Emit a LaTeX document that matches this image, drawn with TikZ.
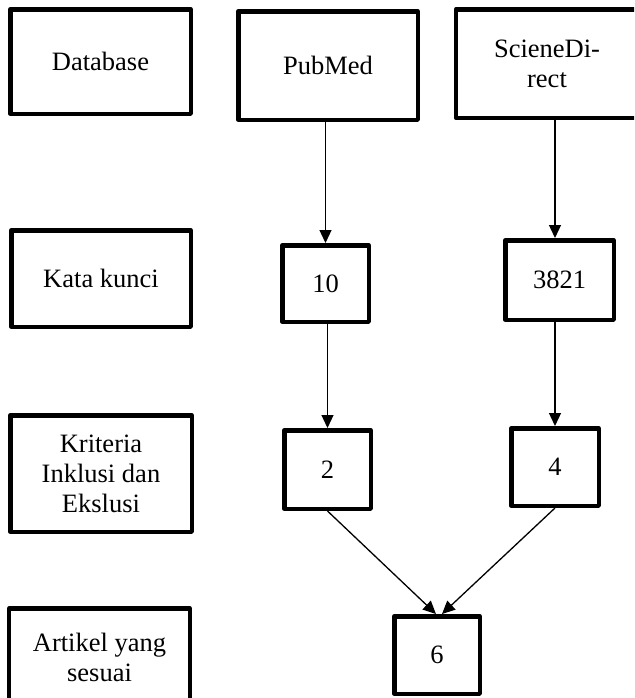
\documentclass[tikz,border=0pt]{standalone}
\usepackage{fontspec}
\setmainfont{Liberation Serif}
\usetikzlibrary{arrows.meta}

\begin{document}
\begin{tikzpicture}[x=0.5pt,y=-0.5pt,
    box/.style={draw,line width=2.25pt,line join=round,inner sep=0pt,align=center,
      font=\fontsize{13.25}{15}\selectfont},
    arr/.style={-{Triangle[length=6.5pt,width=6pt]},line width=0.65pt}]
      \clip (0,0) rectangle (634,698);

      \draw (100.5,61.5) node (db) [box,minimum width=90.25pt,minimum height=52.25pt] {Database};
      \draw (101,278.5) node (kk) [box,minimum width=89.75pt,minimum height=48.25pt] {Kata kunci};
      \draw (101,473.5) node (kr) [box,minimum width=90.75pt,minimum height=58.25pt] {Kriteria\\Inklusi dan\\Ekslusi};
      \draw (99.5,657) node (ar) [box,minimum width=90.25pt,minimum height=48.75pt] {Artikel yang\\sesuai};

      \draw (328,65.5) node (pub) [box,minimum width=89.75pt,minimum height=54.25pt] {PubMed};
      \draw (547,63.5) node (sd) [box,minimum width=91pt,minimum height=54.25pt] {ScieneDi-\\rect};
      \draw (325.5,283.5) node (ten) [box,minimum width=43.25pt,minimum height=38.25pt] {10};
      \draw (559.5,280) node (t3821) [box,minimum width=54.25pt,minimum height=39.75pt] {3821};
      \draw (327.5,469.5) node (two) [box,minimum width=43.25pt,minimum height=39.25pt] {2};
      \draw (555,467) node (four) [box,minimum width=43.75pt,minimum height=38.75pt] {4};
      \draw (437,655) node (six) [box,minimum width=42.75pt,minimum height=38.75pt] {6};

      \draw[arr] (pub.south -| ten.north) -- (ten.north);
      \draw[arr] (ten.south -| two.north) -- (two.north);
      \draw[arr] (sd.south -| four.north) -- (t3821.north -| four.north);
      \draw[arr] (t3821.south -| four.north) -- (four.north);
      \draw[arr] (two.south) -- ([xshift=-0.5pt]six.north);
      \draw[arr] (four.south) -- ([xshift=2.5pt]six.north);
\end{tikzpicture}
\end{document}
